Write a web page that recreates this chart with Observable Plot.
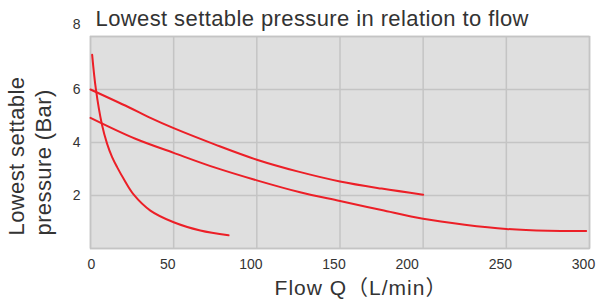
<!DOCTYPE html>
<html><head><meta charset="utf-8">
<script src="https://cdn.jsdelivr.net/npm/d3@7"></script>
<script src="https://cdn.jsdelivr.net/npm/@observablehq/plot@0.6"></script>
<style>body{margin:0;background:#fff}</style>
</head><body><div id="chart"></div>
<script>
const title = "Lowest settable pressure in relation to flow";
const xLabel = "Flow Q（L/min）";
const yLabelLine1 = "Lowest settable";
const yLabelLine2 = "pressure (Bar)";
const xTicks = [0, 50, 100, 150, 200, 250, 300];
const yTicks = [2, 4, 6, 8];

// Steep curve
const curveA_Q = [1, 3.2, 6.8, 10, 13, 16, 20, 26, 36, 50, 66, 83];
const curveA_P = [7.31, 6.03, 4.70, 3.95, 3.45, 3.07, 2.62, 2.03, 1.43, 0.99, 0.68, 0.50];
// Upper long curve (to 200)
const curveB_Q = [0, 23, 36, 50, 75, 100, 125, 150, 175, 200];
const curveB_P = [6.0, 5.33, 4.93, 4.54, 3.92, 3.35, 2.90, 2.53, 2.26, 2.03];
// Lower long curve (to 300)
const curveC_Q = [0, 27, 50, 75, 100, 126, 150, 175, 200, 225, 250, 275, 298];
const curveC_P = [4.93, 4.14, 3.61, 3.05, 2.57, 2.12, 1.79, 1.45, 1.12, 0.90, 0.74, 0.67, 0.66];

const series = [
  ["A", curveA_Q, curveA_P],
  ["B", curveB_Q, curveB_P],
  ["C", curveC_Q, curveC_P]
];
const data = series.flatMap(([id, qs, ps]) => qs.map((q, i) => ({id, q, p: ps[i]})));

const font = "'Liberation Sans', Arial, 'Noto Sans CJK SC', sans-serif";
const red = "#ec1f27";
const gridColor = "#c4c4c4";
const tickStyle = {tickSize: 0, fontSize: 14, label: null, fill: "#333"};

const chart = Plot.plot({
  width: 598,
  height: 300,
  marginLeft: 90,
  marginRight: 9,
  marginTop: 36,
  marginBottom: 52,
  style: {fontFamily: font, fontSize: "14px", color: "#333", background: "#fff", overflow: "visible"},
  x: {domain: [0, 300]},
  y: {domain: [0, 8]},
  marks: [
    Plot.frame({fill: "#dfdfdf", stroke: "none"}),
    Plot.gridX(xTicks, {stroke: gridColor, strokeOpacity: 1, strokeWidth: 1.5}),
    Plot.gridY([0, ...yTicks], {stroke: gridColor, strokeOpacity: 1, strokeWidth: 1.5}),
    Plot.frame({stroke: gridColor, strokeWidth: 1.5}),
    Plot.axisX({...tickStyle, ticks: xTicks.filter(t => t === 0), tickPadding: 11, dx: 1}),
    Plot.axisX({...tickStyle, ticks: xTicks.filter(t => t === 200), tickPadding: 11, dx: -16}),
    Plot.axisX({...tickStyle, ticks: xTicks.filter(t => t !== 0 && t !== 200), tickPadding: 11, dx: -6}),
    Plot.axisY({...tickStyle, ticks: yTicks.filter(t => t !== 8), tickPadding: 10}),
    Plot.axisY({...tickStyle, ticks: yTicks.filter(t => t === 8), tickPadding: 10, dy: -12}),
    Plot.line(data, {x: "q", y: "p", z: "id", stroke: red, strokeWidth: 2, curve: "catmull-rom"}),
    Plot.text([title], {frameAnchor: "top-left", text: d => d, textAnchor: "start", lineAnchor: "middle", dx: 5, dy: -18, fontSize: 22, fill: "#333"}),
    Plot.text([xLabel], {frameAnchor: "bottom", text: d => d, textAnchor: "middle", lineAnchor: "middle", dx: 21, dy: 40, fontSize: 21, fill: "#333"}),
    Plot.text([yLabelLine1], {frameAnchor: "bottom-left", text: d => d, textAnchor: "start", lineAnchor: "middle", rotate: -90, dx: -74, dy: -13, fontSize: 22, fill: "#333"}),
    Plot.text([yLabelLine2], {frameAnchor: "bottom-left", text: d => d, textAnchor: "start", lineAnchor: "middle", rotate: -90, dx: -47, dy: -13, fontSize: 22, fill: "#333"})
  ]
});
d3.select(chart).selectAll("text").filter(function() { return this.textContent === title || this.textContent === yLabelLine1 || this.textContent === yLabelLine2; }).style("letter-spacing", "0.4px");
d3.select(chart).selectAll("text").filter(function() { return this.textContent === xLabel; }).style("letter-spacing", "1px");
document.getElementById("chart").appendChild(chart);
</script>
</body></html>
